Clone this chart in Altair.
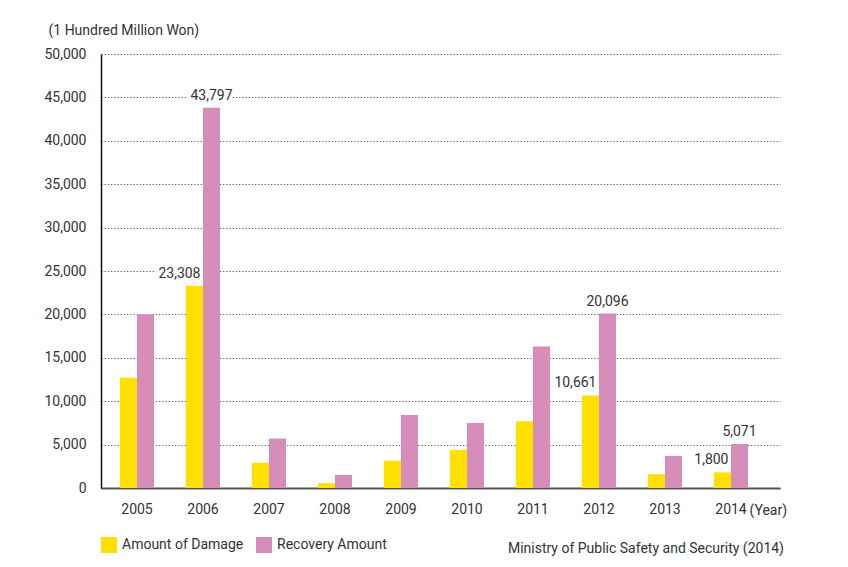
import altair as alt
import pandas as pd

years = ["2005", "2006", "2007", "2008", "2009", "2010", "2011", "2012", "2013", "2014"]
damage = [12700, 23308, 2900, 550, 3150, 4400, 7700, 10661, 1600, 1800]
recovery = [20000, 43797, 5700, 1500, 8400, 7500, 16300, 20096, 3700, 5071]
damage_labels = ["", "23,308", "", "", "", "", "", "10,661", "", "1,800"]
recovery_labels = ["", "43,797", "", "", "", "", "", "20,096", "", "5,071"]
series_names = ["Amount of Damage", "Recovery Amount"]
colors = ["#FFE100", "#D68DBA"]
y_ticks = [0, 5000, 10000, 15000, 20000, 25000, 30000, 35000, 40000, 45000, 50000]
y_title = "(1 Hundred Million Won)"
x_title = "(Year)"
source_text = ["Ministry of Public Safety and Security (2014)"]

rows = []
for i, yr in enumerate(years):
    rows.append({"year": yr, "series": series_names[0], "value": damage[i], "label": damage_labels[i]})
    rows.append({"year": yr, "series": series_names[1], "value": recovery[i], "label": recovery_labels[i]})
df = pd.DataFrame(rows)

FONT = "Roboto, sans-serif"
FS = 14
TXT = "#333333"

x_enc = alt.X(
    "year:N",
    sort=years,
    scale=alt.Scale(paddingInner=0.485, paddingOuter=0.3865, align=0.3725),
    axis=alt.Axis(
        title=x_title, titleX=648, titleY=22, titleAlign="left", titleBaseline="middle",
        titleFontWeight="normal", titleFontSize=FS, titleFont=FONT, titleColor=TXT,
        labelAngle=0, labelFontSize=FS, labelFont=FONT, labelColor=TXT, labelPadding=14,
        ticks=False, tickSize=0, domainColor="#555555", domainWidth=2, grid=False,
    ),
)
xoff_enc = alt.XOffset("series:N", scale=alt.Scale(domain=series_names, paddingInner=0, paddingOuter=0))
y_enc = alt.Y(
    "value:Q",
    scale=alt.Scale(domain=[0, 50000], nice=False),
    axis=alt.Axis(
        values=y_ticks, format=",.0f",
        title=y_title, titleAngle=0, titleX=-53, titleY=-24, titleAlign="left", titleBaseline="middle",
        titleFontWeight="normal", titleFontSize=FS, titleFont=FONT, titleColor=TXT,
        labelFontSize=FS, labelFont=FONT, labelColor=TXT, labelPadding=15,
        ticks=False, tickSize=0, domainColor="#111111", domainWidth=1.5,
        grid=True, gridDash=[1.2, 2], gridColor="#555555", gridWidth=1,
    ),
)

base = alt.Chart(df)

bars = base.mark_bar().encode(
    x=x_enc,
    xOffset=xoff_enc,
    y=y_enc,
    color=alt.Color(
        "series:N",
        scale=alt.Scale(domain=series_names, range=colors),
        legend=alt.Legend(
            orient="none", legendX=0, legendY=483, direction="horizontal", title=None,
            symbolType="square", symbolSize=256, symbolStrokeWidth=0, symbolOpacity=1,
            labelFontSize=FS, labelFont=FONT, labelColor=TXT, columnPadding=12, labelOffset=5,
        ),
    ),
)

dmg = base.transform_filter(
    (alt.datum.series == series_names[0]) & (alt.datum.label != "")
)
rec = base.transform_filter(
    (alt.datum.series == series_names[1]) & (alt.datum.label != "")
)

def label_layers(src, align, dx):
    enc = dict(x=alt.X("year:N", sort=years), xOffset=alt.XOffset("series:N"), y=alt.Y("value:Q"), text="label:N")
    halo = src.mark_text(align=align, baseline="bottom", dx=dx, dy=-5, fontSize=FS, font=FONT,
                         stroke="white", strokeWidth=6, color="white").encode(**enc)
    txt = src.mark_text(align=align, baseline="bottom", dx=dx, dy=-5, fontSize=FS, font=FONT,
                        color=TXT).encode(**enc)
    return [halo, txt]

src_chart = alt.Chart(pd.DataFrame({"t": source_text})).mark_text(
    align="right", baseline="middle", fontSize=FS, font=FONT, color=TXT
).encode(text="t:N", x=alt.value(683), y=alt.value(495))

chart = alt.layer(
    bars, *label_layers(dmg, "right", 6), *label_layers(rec, "center", 0), src_chart
).properties(
    width=679, height=434,
    autosize=alt.AutoSizeParams(type="none"),
    padding={"left": 101, "top": 54, "right": 68, "bottom": 79},
    background="white",
).configure_view(stroke=None)

chart.save("out.html", embed_options={"renderer": "svg", "actions": False})
